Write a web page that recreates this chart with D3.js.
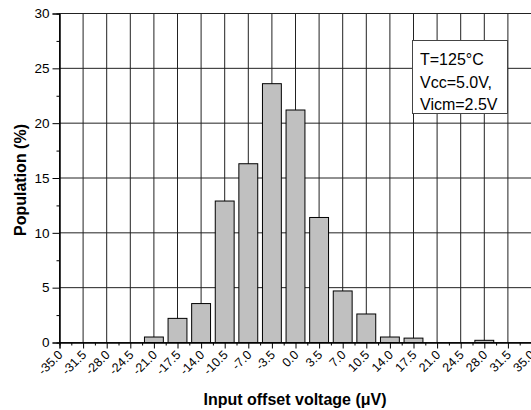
<!DOCTYPE html>
<html>
<head>
<meta charset="utf-8">
<script src="https://cdn.jsdelivr.net/npm/d3@7"></script>
<style>
  body { margin: 0; background: #fff; }
  svg { font-family: "Liberation Sans", Arial, sans-serif; }
</style>
</head>
<body>
<div id="chart"></div>
<script>
// bin centers (uV) and population (%)
var binCenters = [-21, -17.5, -14, -10.5, -7, -3.5, 0, 3.5, 7, 10.5, 14, 17.5, 28];
var population = [0.5, 2.2, 3.55, 12.9, 16.3, 23.6, 21.2, 11.4, 4.7, 2.6, 0.5, 0.4, 0.2];
var xTicks = [-35, -31.5, -28, -24.5, -21, -17.5, -14, -10.5, -7, -3.5, 0, 3.5, 7, 10.5, 14, 17.5, 21, 24.5, 28, 31.5, 35];
var yTicks = [0, 5, 10, 15, 20, 25, 30];
var legendLines = ['T=125\u00b0C', 'Vcc=5.0V,', 'Vicm=2.5V'];

var width = 531, height = 410;
var binWidth = 2.8;

var svg = d3.select('#chart').append('svg')
  .attr('width', width).attr('height', height);

var x = d3.scaleLinear().domain([-35, 35]).range([59.5, 531.5]);
var y = d3.scaleLinear().domain([0, 30]).range([342.5, 13.5]);

// grid
svg.append('g').selectAll('line.v')
  .data(xTicks)
  .enter().append('line')
  .attr('x1', function(d) { return x(d); })
  .attr('x2', function(d) { return x(d); })
  .attr('y1', y(0)).attr('y2', y(30))
  .attr('stroke', '#222').attr('stroke-width', 1);

svg.append('g').selectAll('line.h')
  .data(yTicks)
  .enter().append('line')
  .attr('x1', x(-35)).attr('x2', x(35))
  .attr('y1', function(d) { return y(d); })
  .attr('y2', function(d) { return y(d); })
  .attr('stroke', '#222').attr('stroke-width', 1);

// bars
svg.append('g').selectAll('rect')
  .data(binCenters)
  .enter().append('rect')
  .attr('x', function(d) { return x(d - binWidth / 2); })
  .attr('width', function(d) { return x(d + binWidth / 2) - x(d - binWidth / 2); })
  .attr('y', function(d, i) { return y(population[i]); })
  .attr('height', function(d, i) { return y(0) - y(population[i]); })
  .attr('fill', '#c0c0c0')
  .attr('stroke', '#000').attr('stroke-width', 1);

// x axis
var minorX = d3.range(-35, 35.01, 1.75).filter(function(d, i) { return i % 2 === 1; });
var xAxis = svg.append('g').attr('transform', 'translate(0,' + y(0) + ')');
xAxis.call(d3.axisBottom(x).tickValues(xTicks).tickSize(6).tickFormat(''));
xAxis.append('g').call(d3.axisBottom(x).tickValues(minorX).tickSize(3).tickFormat(''));
xAxis.selectAll('.domain').attr('stroke', '#000');
xAxis.selectAll('.tick line').attr('stroke', '#000');
xAxis.selectAll('text.lbl')
  .data(xTicks)
  .enter().append('text')
  .attr('class', 'lbl')
  .attr('text-anchor', 'end')
  .attr('fill', '#000')
  .attr('font-size', 12.5)
  .attr('font-family', '"Liberation Sans", Arial, sans-serif')
  .attr('transform', function(d) { return 'translate(' + (x(d) + 4) + ',13) rotate(-45)'; })
  .text(function(d) { return d.toFixed(1); });

// y axis
var yAxis = svg.append('g').attr('transform', 'translate(' + x(-35) + ',0)');
yAxis.call(d3.axisLeft(y).tickValues(yTicks).tickSize(7).tickPadding(3));
yAxis.append('g').call(d3.axisLeft(y).tickValues(d3.range(2.5, 30, 5)).tickSize(3).tickFormat(''));
yAxis.selectAll('text').attr('font-size', 13.5).attr('font-family', '"Liberation Sans", Arial, sans-serif').attr('fill', '#000');
yAxis.selectAll('.domain').attr('stroke', '#000');

// axis titles
svg.append('text')
  .attr('x', 295).attr('y', 405)
  .attr('text-anchor', 'middle')
  .attr('font-size', 16).attr('font-weight', 'bold')
  .text('Input offset voltage (\u03bcV)');

svg.append('text')
  .attr('transform', 'translate(26,180) rotate(-90)')
  .attr('text-anchor', 'middle')
  .attr('font-size', 16).attr('font-weight', 'bold')
  .text('Population (%)');

// legend
var lg = svg.append('g');
lg.append('rect')
  .attr('x', 412.5).attr('y', 40.5).attr('width', 95).attr('height', 73)
  .attr('fill', '#fff').attr('stroke', '#444').attr('stroke-width', 1);
lg.selectAll('text')
  .data(legendLines)
  .enter().append('text')
  .attr('x', 420)
  .attr('y', function(d, i) { return 65 + i * 22.5; })
  .attr('font-size', 16)
  .text(function(d) { return d; });
</script>
</body>
</html>
